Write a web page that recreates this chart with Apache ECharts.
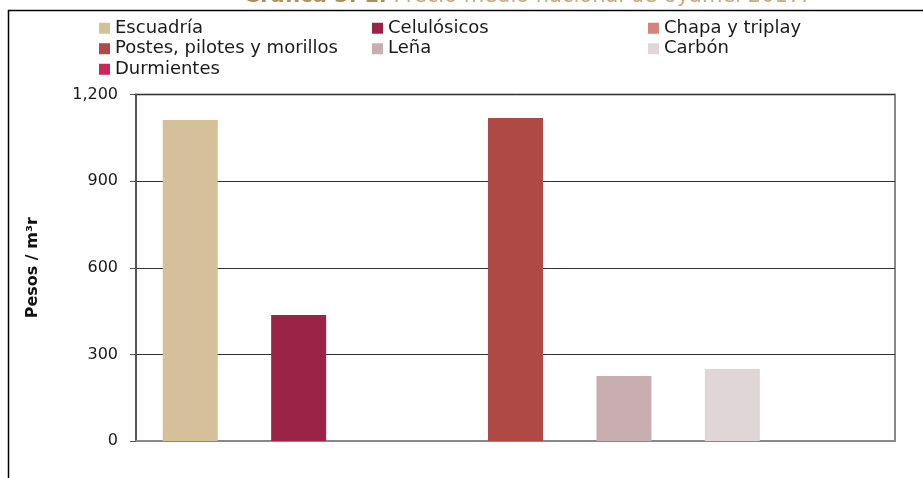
<!DOCTYPE html>
<html>
<head>
<meta charset="utf-8">
<script src="https://cdn.jsdelivr.net/npm/echarts@6/dist/echarts.min.js"></script>
<style>
html,body{margin:0;padding:0;background:#fff;}
#chart{width:923px;height:478px;}
</style>
</head>
<body>
<div id="chart"></div>
<script>
var categories = ["Escuadría", "Celulósicos", "Chapa y triplay", "Postes, pilotes y morillos", "Leña", "Carbón", "Durmientes"];
var values = [1112, 436, null, 1119, 225, 249, null];
var colors = ["#D5C09A", "#9C2348", "#D3847E", "#AE4945", "#C8AEB1", "#E0D6D7", "#C8275A"];
var yTicks = [0, 300, 600, 900, 1200];
var titleBold = "Gráfica 3. 1.";
var titleRest = " Precio medio nacional de oyamel 2017.";
var yName = "Pesos / m³r";

var series = categories.map(function (name, i) {
  var d = categories.map(function (c, j) { return j === i ? values[i] : null; });
  return {
    name: name,
    type: 'bar',
    data: d,
    barWidth: 55,
    barGap: '-100%',
    itemStyle: { color: colors[i] },
    emphasis: { disabled: true },
    z: 3
  };
});

function legendCol(names, left) {
  return {
    data: names,
    left: left,
    top: 18,
    orient: 'vertical',
    itemWidth: 11,
    itemHeight: 11,
    itemGap: 0,
    icon: 'rect',
    selectedMode: false,
    padding: 0,
    textStyle: {
      fontFamily: 'DejaVu Sans',
      fontSize: 18,
      lineHeight: 20.5,
      color: '#1a1a1a',
      padding: [0, 0, 0, 0]
    }
  };
}

var chart = echarts.init(document.getElementById('chart'), null, { renderer: 'canvas' });
chart.setOption({
  animation: false,
  backgroundColor: '#fff',
  legend: [
    legendCol([categories[0], categories[3], categories[6]], 99),
    legendCol([categories[1], categories[4]], 372),
    legendCol([categories[2], categories[5]], 648)
  ],
  grid: {
    left: 136, right: 28, top: 94.5, bottom: 37,
    show: true, borderColor: '#888', borderWidth: 2, backgroundColor: 'transparent'
  },
  xAxis: {
    type: 'category',
    data: categories,
    axisLabel: { show: false },
    axisTick: { show: false },
    axisLine: { show: true, lineStyle: { color: '#888', width: 2 } },
    splitLine: { show: false }
  },
  yAxis: {
    type: 'value',
    min: yTicks[0],
    max: yTicks[yTicks.length - 1],
    interval: yTicks[1] - yTicks[0],
    name: yName,
    nameLocation: 'middle',
    nameGap: 95,
    nameTextStyle: { fontFamily: 'DejaVu Sans', fontSize: 16, fontWeight: 'bold', color: '#111' },
    axisLine: { show: true, lineStyle: { color: '#555', width: 2 } },
    axisTick: { show: true, length: 6, lineStyle: { color: '#555', width: 1 } },
    axisLabel: {
      margin: 18,
      fontFamily: 'DejaVu Sans',
      fontSize: 16,
      color: '#1a1a1a',
      formatter: function (v) { return v.toLocaleString('en-US'); }
    },
    splitLine: { show: true, lineStyle: { color: '#333', width: 1 } }
  },
  series: series,
  graphic: [
    {
      type: 'rect',
      shape: { x: 8.5, y: 10.5, width: 1000, height: 1000 },
      style: { fill: 'none', stroke: '#000', lineWidth: 1.5 },
      silent: true
    },
    {
      type: 'text',
      left: 243,
      top: -14,
      style: {
        text: '{b|' + titleBold + '}{r|' + titleRest + '}',
        rich: {
          b: { fontFamily: 'DejaVu Sans', fontSize: 21, fontWeight: 'bold', fill: '#B38E5D' },
          r: { fontFamily: 'DejaVu Sans', fontSize: 21, fill: '#C9A97A' }
        }
      },
      silent: true
    }
  ]
});
</script>
</body>
</html>
